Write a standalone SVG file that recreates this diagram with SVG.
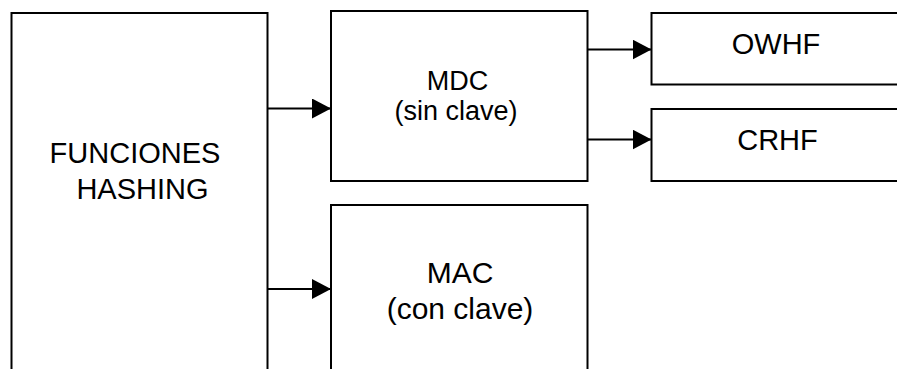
<svg xmlns="http://www.w3.org/2000/svg" width="897" height="369" viewBox="0 0 897 369">
  <style>
    .box { fill: #ffffff; stroke: #000000; stroke-width: 2; }
    .conn { stroke: #000000; stroke-width: 2; fill: none; marker-end: url(#arrow); }
    .lbl { font-family: "Liberation Sans", Arial, sans-serif; fill: #000000; text-anchor: middle; }
  </style>
  <defs>
    <marker id="arrow" markerUnits="userSpaceOnUse" markerWidth="19" markerHeight="20" refX="19" refY="10" orient="auto">
      <path d="M0,0 L19,10 L0,20 Z" fill="#000000"/>
    </marker>
  </defs>
  <rect width="897" height="369" fill="#ffffff"/>

  <g id="funciones-hashing">
    <rect class="box" x="11.5" y="13" width="256" height="380"/>
    <text class="lbl" x="135" y="163" font-size="29">FUNCIONES</text>
    <text class="lbl" x="142.5" y="198.5" font-size="29">HASHING</text>
  </g>

  <g id="mdc">
    <rect class="box" x="331" y="11" width="256.5" height="170"/>
    <text class="lbl" x="457.5" y="89.5" font-size="27">MDC</text>
    <text class="lbl" x="456" y="119.5" font-size="27">(sin clave)</text>
  </g>

  <g id="mac">
    <rect class="box" x="331" y="205" width="256.5" height="190"/>
    <text class="lbl" x="460" y="282.5" font-size="30">MAC</text>
    <text class="lbl" x="460" y="318.5" font-size="30">(con clave)</text>
  </g>

  <g id="owhf">
    <rect class="box" x="651.5" y="13" width="260" height="71.5"/>
    <text class="lbl" x="776" y="53.5" font-size="29">OWHF</text>
  </g>

  <g id="crhf">
    <rect class="box" x="651.5" y="109" width="260" height="72"/>
    <text class="lbl" x="777.5" y="150" font-size="29">CRHF</text>
  </g>

  <g id="connectors">
    <line class="conn" x1="267.5" y1="108.5" x2="331" y2="108.5"/>
    <line class="conn" x1="267.5" y1="289" x2="331" y2="289"/>
    <line class="conn" x1="587.5" y1="49.5" x2="651.5" y2="49.5"/>
    <line class="conn" x1="587.5" y1="139.5" x2="651.5" y2="139.5"/>
  </g>
</svg>
